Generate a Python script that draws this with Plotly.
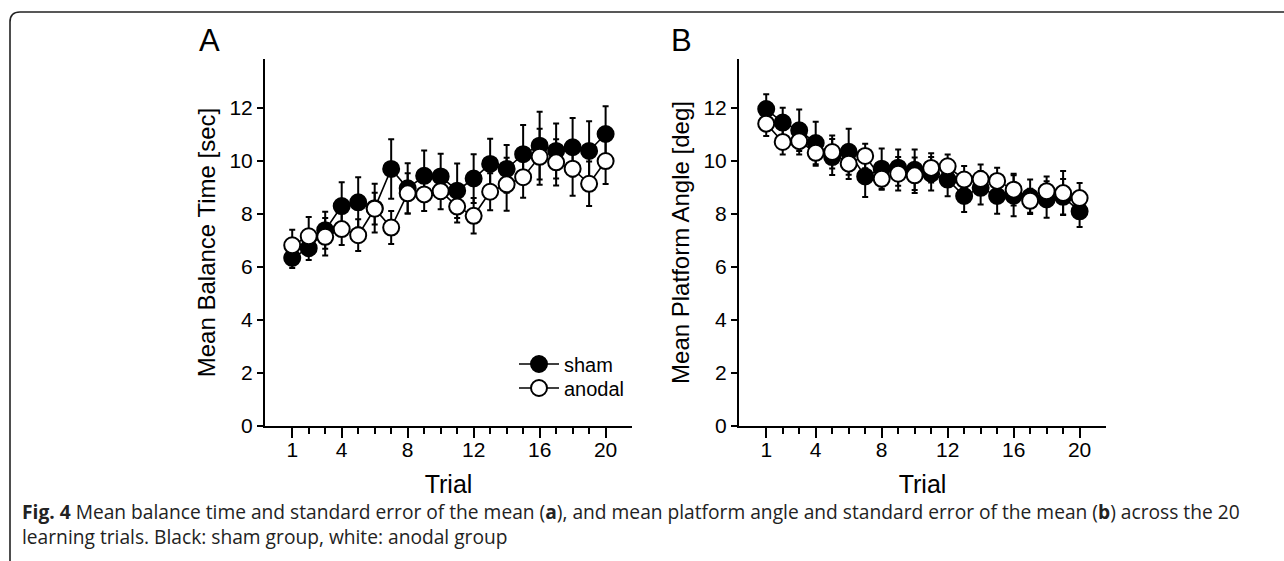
import plotly.graph_objects as go

W, H = 1284, 561

trials = list(range(1, 21))
x_tick_labels = [1, 4, 8, 12, 16, 20]
y_tick_vals = [0, 2, 4, 6, 8, 10, 12]

# Panel A: Mean Balance Time [sec]
a_sham = [6.34, 6.71, 7.39, 8.30, 8.44, 8.22, 9.70, 8.97, 9.44, 9.42,
          8.88, 9.34, 9.89, 9.70, 10.26, 10.58, 10.38, 10.52, 10.38, 11.02]
a_sham_sem = [0.38, 0.45, 0.70, 0.90, 0.95, 0.92, 1.12, 0.95, 0.96, 0.85,
              1.03, 0.92, 0.95, 0.90, 1.10, 1.28, 1.04, 1.10, 1.12, 1.05]
a_anodal = [6.82, 7.16, 7.14, 7.43, 7.20, 8.20, 7.49, 8.78, 8.74, 8.86,
            8.28, 7.93, 8.84, 9.12, 9.39, 10.16, 9.95, 9.71, 9.14, 10.00]
a_anodal_sem = [0.59, 0.73, 0.71, 0.60, 0.60, 0.60, 0.62, 0.76, 0.63, 0.68,
                0.60, 0.67, 0.70, 1.00, 0.78, 1.06, 0.87, 1.02, 0.84, 0.87]

# Panel B: Mean Platform Angle [deg]
b_sham = [11.96, 11.45, 11.16, 10.68, 10.15, 10.35, 9.42, 9.71, 9.75, 9.67,
          9.52, 9.30, 8.68, 8.99, 8.68, 8.69, 8.65, 8.55, 8.65, 8.10]
b_sham_sem = [0.56, 0.56, 0.78, 0.80, 0.68, 0.87, 0.78, 0.76, 0.68, 0.76,
              0.63, 0.63, 0.60, 0.63, 0.67, 0.77, 0.65, 0.69, 0.67, 0.59]
b_anodal = [11.41, 10.72, 10.75, 10.31, 10.34, 9.90, 10.19, 9.33, 9.52, 9.46,
            9.74, 9.80, 9.30, 9.32, 9.25, 8.92, 8.50, 8.86, 8.79, 8.60]
b_anodal_sem = [0.47, 0.47, 0.50, 0.49, 0.62, 0.58, 0.46, 0.41, 0.63, 0.67,
                0.55, 0.45, 0.51, 0.55, 0.50, 0.60, 0.45, 0.56, 0.83, 0.57]

FONT = "Liberation Sans, Arial, sans-serif"


def px(x):
    return x / W


def py(y):
    return 1 - y / H


def series(xa, ya, x, y, err, name, filled, show, legend):
    return go.Scatter(
        x=x, y=y, xaxis=xa, yaxis=ya, name=name, showlegend=show,
        legend=legend,
        mode="lines+markers",
        line=dict(color="black", width=1.6),
        marker=dict(size=16, symbol="circle",
                    color="black" if filled else "white",
                    line=dict(color="black", width=2)),
        error_y=dict(type="data", array=err, visible=True, color="black",
                     thickness=2, width=3),
    )


fig = go.Figure()
fig.add_trace(series("x", "y", trials, a_sham, a_sham_sem, "sham", True, True, "legend"))
fig.add_trace(series("x", "y", trials, a_anodal, a_anodal_sem, "anodal", False, True, "legend2"))
fig.add_trace(series("x2", "y2", trials, b_sham, b_sham_sem, "sham", True, False, "legend"))
fig.add_trace(series("x2", "y2", trials, b_anodal, b_anodal_sem, "anodal", False, False, "legend2"))

xr = [-0.65, 21.6]
yr = [0, 13.85]
ydom = [py(426), py(59)]


def xaxis(dom, anchor):
    return dict(domain=dom, anchor=anchor, range=xr, showgrid=False, zeroline=False,
                showline=True, linecolor="black", linewidth=2,
                ticks="outside", tickvals=x_tick_labels, ticklen=10, tickwidth=2,
                tickcolor="black", ticklabelstandoff=-6,
                minor=dict(tickvals=trials, ticks="outside", ticklen=6, tickwidth=2,
                           tickcolor="black", showgrid=False),
                tickfont=dict(family=FONT, size=21, color="black"),
                title=dict(text="Trial", font=dict(family=FONT, size=25, color="black"),
                           standoff=15),
                automargin=False, fixedrange=True)


def yaxis(anchor, title):
    return dict(domain=ydom, anchor=anchor, range=yr, showgrid=False, zeroline=False,
                showline=True, linecolor="black", linewidth=2,
                ticks="outside", tickvals=y_tick_vals, ticklen=6, tickwidth=2,
                tickcolor="black",
                tickfont=dict(family=FONT, size=21, color="black"),
                title=dict(text=title, font=dict(family=FONT, size=24, color="black"),
                           standoff=7),
                automargin=False, fixedrange=True)


def legend(ycen):
    return dict(x=px(514), y=py(ycen), xanchor="left", yanchor="middle",
                bgcolor="rgba(0,0,0,0)", font=dict(family=FONT, size=20, color="black"),
                itemwidth=40, borderwidth=0)


fig.update_layout(
    width=W, height=H,
    margin=dict(l=0, r=0, t=0, b=0),
    paper_bgcolor="white", plot_bgcolor="white",
    xaxis=xaxis([px(265), px(632)], "y"),
    yaxis=yaxis("x", "Mean Balance Time [sec]"),
    xaxis2=xaxis([px(739), px(1106)], "y2"),
    yaxis2=yaxis("x2", "Mean Platform Angle [deg]"),
    legend=legend(364),
    legend2=legend(388),
    showlegend=True,
)

# panel letters
for letter, xpos in (("A", 209.5), ("B", 681.5)):
    fig.add_annotation(text=letter, x=px(xpos), y=py(40.5), xref="paper", yref="paper",
                       showarrow=False, xanchor="center", yanchor="middle",
                       font=dict(family=FONT, size=31, color="black"))

# caption
cap1 = ("<b>Fig. 4</b> Mean balance time and standard error of the mean (<b>a</b>), and mean "
        "platform angle and standard error of the mean (<b>b</b>) across the 20")
cap2 = "learning trials. Black: sham group, white: anodal group"
CAPFONT = "Open Sans, Noto Sans, sans-serif"
fig.add_annotation(text=cap1, x=px(20), y=py(512), xref="paper", yref="paper",
                   showarrow=False, xanchor="left", yanchor="middle", align="left",
                   font=dict(family=CAPFONT, size=19.2, color="#222222"))
fig.add_annotation(text=cap2, x=px(20), y=py(536), xref="paper", yref="paper",
                   showarrow=False, xanchor="left", yanchor="middle", align="left",
                   font=dict(family=CAPFONT, size=19.2, color="#222222"))

# rounded frame (open to the right and bottom)
r = 10
path = (f"M {px(10)},{py(H + 5)} L {px(10)},{py(12 + r)} "
        f"Q {px(10)},{py(12)} {px(10 + r)},{py(12)} L {px(W + 5)},{py(12)}")
fig.add_shape(type="path", path=path, xref="paper", yref="paper",
              line=dict(color="#222222", width=1.6))

fig.write_html("out.html")
